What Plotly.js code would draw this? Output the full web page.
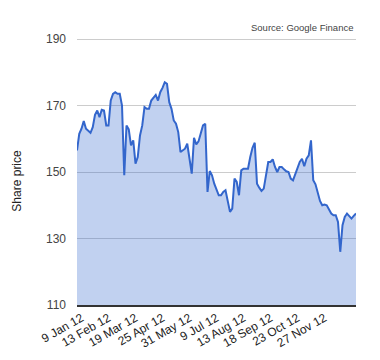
<!DOCTYPE html>
<html>
<head>
<meta charset="utf-8">
<script src="https://cdn.plot.ly/plotly-3.0.1.min.js"></script>
<style>html,body{margin:0;padding:0;background:#fff;}#chart{width:380px;height:360px;}</style>
</head>
<body>
<div id="chart"></div>
<script>
// Share price, sampled every 2nd trading day of 2012 (day index 0 = 3 Jan 2012)
const sampleStep = 2;
const prices = [
  156.5, 161.5, 163, 165.3, 163, 162.3, 161.8, 163.5, 167.2, 168.5,
  166.5, 168.7, 168.5, 164, 164, 171.5, 173.5, 174, 173.5, 173.5,
  170, 149, 164, 162.8, 158, 159.5, 152.5, 154.5, 161, 164,
  169.5, 169, 169, 171.5, 172.3, 173.2, 171.5, 174, 175.3, 177,
  176.5, 171, 169, 165.5, 164.5, 162, 156, 156.5, 157, 158.5,
  154.5, 149.5, 160.3, 158.3, 159.2, 161.6, 164, 164.5, 144, 150.3,
  149, 146.5, 144.5, 143, 143, 144, 144.5, 141, 138, 139,
  148, 147, 143, 150.5, 151, 151, 151, 154.5, 157.3, 158.8,
  146.5, 145.3, 144.3, 145, 149, 153, 153, 153.8, 151.5, 150,
  151.5, 151.5, 150.8, 150.2, 150, 148, 147.5, 149.3, 151.3, 153,
  154, 151.7, 154, 155, 159.5, 147.5, 146.3, 143.8, 141.3, 140,
  140.2, 140, 138.7, 137.5, 137, 137, 135, 126, 134, 136.5,
  137.5, 136.8, 136, 136.8, 137.5
];
const tickDays = [4, 28, 52, 76, 100, 124, 148, 172, 196, 220];
const tickLabels = ['9 Jan 12', '13 Feb 12', '19 Mar 12', '25 Apr 12', '31 May 12',
                    '9 Jul 12', '13 Aug 12', '18 Sep 12', '23 Oct 12', '27 Nov 12'];
const yTicks = [110, 130, 150, 170, 190];
const yAxisTitle = 'Share price';
const sourceNote = 'Source: Google Finance';

const days = prices.map((_, i) => i * sampleStep);

const trace = {
  x: days,
  y: prices,
  type: 'scatter',
  mode: 'lines',
  line: {color: '#3366cc', width: 2},
  fill: 'tozeroy',
  fillcolor: 'rgba(51,102,204,0.3)',
  hoverinfo: 'skip'
};

const font = 'Arial, "Liberation Sans", sans-serif';

const layout = {
  width: 380,
  height: 360,
  margin: {l: 77, r: 24, t: 37, b: 55},
  paper_bgcolor: '#fff',
  plot_bgcolor: '#fff',
  showlegend: false,
  font: {family: font, size: 12, color: '#444'},
  xaxis: {
    range: [0, days[days.length - 1]],
    tickmode: 'array',
    tickvals: tickDays,
    ticktext: tickLabels,
    tickangle: -30,
    ticks: '',
    showgrid: false,
    zeroline: false,
    showline: true,
    linecolor: '#333',
    linewidth: 1.5,
    tickfont: {family: font, size: 12, color: '#222'}
  },
  yaxis: {
    range: [110, 190.6],
    tickmode: 'array',
    tickvals: yTicks,
    ticks: '',
    showgrid: true,
    gridcolor: '#cccccc',
    gridwidth: 1,
    zeroline: false,
    showline: false,
    ticklabelstandoff: 10,
    tickfont: {family: font, size: 12, color: '#444'}
  },
  annotations: [
    {
      text: yAxisTitle,
      xref: 'paper', yref: 'paper',
      x: -0.216, y: 0.463,
      xanchor: 'center', yanchor: 'middle',
      textangle: -90,
      showarrow: false,
      font: {family: font, size: 12, color: '#222'}
    },
    {
      text: sourceNote,
      xref: 'paper', yref: 'paper',
      x: 0.996, y: 1.036,
      xanchor: 'right', yanchor: 'middle',
      showarrow: false,
      font: {family: font, size: 9.5, color: '#444'}
    }
  ]
};

Plotly.newPlot('chart', [trace], layout, {displayModeBar: false, staticPlot: true});
</script>
</body>
</html>
